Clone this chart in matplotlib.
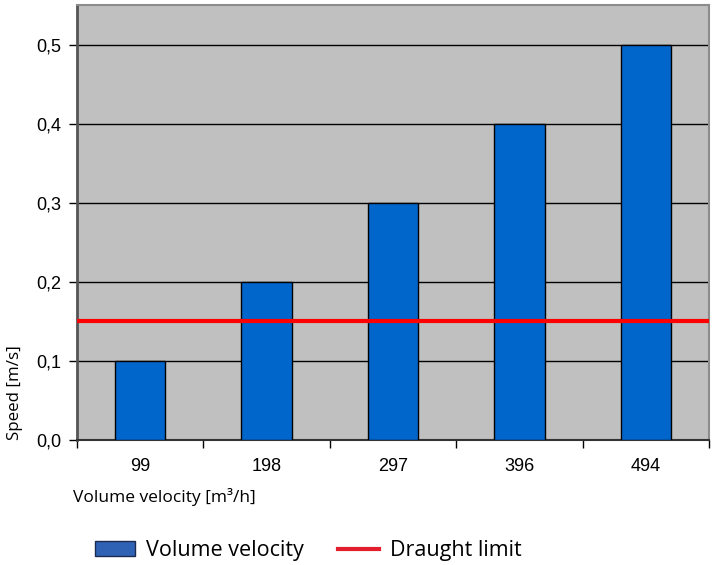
import matplotlib.pyplot as plt
from matplotlib.patches import Patch
from matplotlib.lines import Line2D

# Data
flows = ["99", "198", "297", "396", "494"]
speeds = [0.1, 0.2, 0.3, 0.4, 0.5]
draught_limit = 0.15
y_ticks = [0.0, 0.1, 0.2, 0.3, 0.4, 0.5]

fig = plt.figure(figsize=(7.15, 5.65), dpi=100)
ax = fig.add_axes([0.1077, 0.2212, 0.8839, 0.77])
ax.set_facecolor("#c0c0c0")

x = list(range(len(flows)))
ax.bar(x, speeds, width=0.4, color="#0066cc", edgecolor="black", linewidth=1, zorder=3)
ax.axhline(draught_limit, color="#ff0000", linewidth=3, zorder=4)

ax.set_xlim(-0.5, len(flows) - 0.5)
ax.set_ylim(0, 0.55)
ax.set_yticks(y_ticks)
ax.set_yticklabels([("%.1f" % v).replace(".", ",") for v in y_ticks],
                   fontsize=13, family="Liberation Sans")
ax.yaxis.grid(True, color="black", linewidth=1, zorder=1)
ax.set_axisbelow(True)

# category labels sit between tick marks at the boundaries
ax.set_xticks(x)
ax.set_xticklabels(flows, fontsize=13, family="Liberation Sans")
ax.tick_params(axis="x", length=0, pad=13)
ax.set_xticks([i - 0.5 for i in range(len(flows) + 1)], minor=True)
ax.tick_params(axis="x", which="minor", length=6, width=1, direction="out")
ax.tick_params(axis="y", length=6, width=1, direction="out", pad=5)

for side in ["top", "right"]:
    ax.spines[side].set_color("#8c8c8c")
    ax.spines[side].set_linewidth(1.5)
ax.spines["left"].set_color("#555555")
ax.spines["left"].set_linewidth(2)
ax.spines["bottom"].set_color("#333333")
ax.spines["bottom"].set_linewidth(1.5)

fig.text(0.102, 0.121, "Volume velocity [m\u00b3/h]", fontsize=12.5,
         family="Open Sans", ha="left", va="center")
fig.text(0.021, 0.221, "Speed [m/s]", fontsize=12.2, family="Open Sans",
         rotation=90, ha="center", va="bottom")

handles = [Patch(facecolor="#2f62b4", edgecolor="#1a2a50", linewidth=1),
           Line2D([0], [0], color="#e31e2d", linewidth=3)]
fig.legend(handles, ["Volume velocity", "Draught limit"], loc="center",
           bbox_to_anchor=(0.431, 0.025), ncol=2, frameon=False,
           prop={"family": "Open Sans", "size": 15.5}, handlelength=1.9,
           handleheight=0.7, columnspacing=1.6, handletextpad=0.5,
           borderpad=0)

plt.savefig("out.png", dpi=100)
